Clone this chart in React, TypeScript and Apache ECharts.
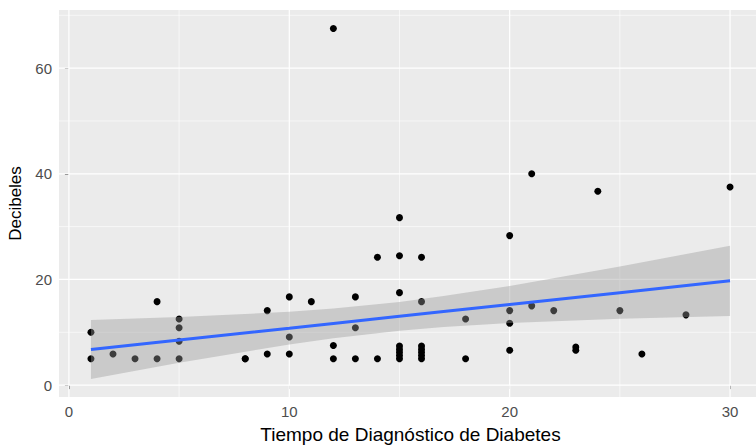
import React, { useEffect, useRef } from "react";
import * as echarts from "echarts";

// Scatter points: [Tiempo de Diagnóstico (años), Decibeles]
const pointX = [
  1, 1, 2, 3, 4, 4, 5, 5, 5, 5, 8, 8, 9, 9, 10, 10, 10, 11, 12, 12, 12, 13, 13, 13, 14, 14,
  15, 15, 15, 15, 15, 15, 15, 15, 16, 16, 16, 16, 16, 16, 16, 18, 18, 20, 20, 20, 20, 21, 21,
  22, 23, 23, 24, 25, 26, 28, 30,
];
const pointY = [
  10, 5, 5.9, 5, 15.8, 5, 12.5, 10.85, 8.3, 5, 5, 5, 14.1, 5.9, 16.7, 9.1, 5.9, 15.8, 67.5, 7.5, 5,
  16.7, 10.85, 5, 24.2, 5,
  31.7, 24.5, 17.5, 7.4, 6.8, 6.2, 5.6, 5, 24.2, 15.8, 7.4, 6.8, 6.2, 5.6, 5, 12.5, 5,
  28.3, 14.1, 11.7, 6.6, 40, 15, 14.1, 7.2, 6.6, 36.7, 14.1, 5.9, 13.3, 37.5,
];

// Smoother (linear fit) and its confidence band
const smoothX = [1, 5, 10, 12, 15, 17, 20, 25, 30];
const smoothFit = [6.75, 8.54, 10.78, 11.68, 13.02, 13.92, 15.26, 17.5, 19.74];
const smoothLower = [1.17, 4.21, 7.69, 8.88, 10.29, 10.99, 11.74, 12.56, 13.09];
const smoothUpper = [12.33, 12.87, 13.87, 14.48, 15.75, 16.85, 18.78, 22.44, 26.39];

// Axis ticks and grid lines
const xTicks = [0, 10, 20, 30];
const yTicks = [0, 20, 40, 60];
const xMinorGrid = [5, 15, 25];
const yMinorGrid = [10, 30, 50, 70];

const X_TITLE = "Tiempo de Diagnóstico de Diabetes";
const Y_TITLE = "Decibeles";

const FONT = "'Liberation Sans', Arial, Helvetica, sans-serif";

export default function App() {
  const ref = useRef<HTMLDivElement>(null);

  useEffect(() => {
    if (!ref.current) return;
    const chart = echarts.init(ref.current, undefined, { renderer: "svg" });

    const vLines = [
      ...xTicks.map((v) => [v, 0, 1]),
      ...xMinorGrid.map((v) => [v, 0, 0]),
    ];
    const hLines = [
      ...yTicks.map((v) => [0, v, 1]),
      ...yMinorGrid.map((v) => [0, v, 0]),
    ];

    const option: any = {
      animation: false,
      textStyle: { fontFamily: FONT },
      grid: {
        left: 59,
        top: 10,
        width: 703,
        height: 387,
        show: true,
        backgroundColor: "#EBEBEB",
        borderWidth: 0,
        containLabel: false,
        outerBoundsMode: "none",
      },
      xAxis: {
        type: "value",
        min: -0.45,
        max: 31.45,
        axisLine: { show: false },
        axisTick: {
          show: true,
          customValues: xTicks,
          length: 4,
          lineStyle: { color: "#333333", width: 1 },
        },
        axisLabel: {
          customValues: xTicks,
          color: "#4D4D4D",
          fontSize: 15,
          margin: 7,
          fontFamily: FONT,
        },
        splitLine: { show: false },
        name: X_TITLE,
        nameLocation: "middle",
        nameGap: 28,
        nameTextStyle: { color: "#000000", fontSize: 19, fontFamily: FONT },
      },
      yAxis: {
        type: "value",
        min: -2.25,
        max: 71,
        axisLine: { show: false },
        axisTick: {
          show: true,
          customValues: yTicks,
          length: 4,
          lineStyle: { color: "#333333", width: 1 },
        },
        axisLabel: {
          customValues: yTicks,
          color: "#4D4D4D",
          fontSize: 15,
          margin: 7,
          fontFamily: FONT,
        },
        splitLine: { show: false },
        name: Y_TITLE,
        nameLocation: "middle",
        nameGap: 30,
        nameTextStyle: { color: "#000000", fontSize: 17, fontFamily: FONT },
      },
      series: [
        {
          type: "custom",
          name: "vgrid",
          z: 1,
          silent: true,
          data: vLines,
          renderItem: (params: any, api: any) => {
            const cs = params.coordSys;
            const x = api.coord([api.value(0), 0])[0];
            const major = api.value(2) === 1;
            return {
              type: "line",
              shape: { x1: x, y1: cs.y, x2: x, y2: cs.y + cs.height },
              style: { stroke: "#FFFFFF", lineWidth: major ? 1.2 : 0.6 },
            };
          },
        },
        {
          type: "custom",
          name: "hgrid",
          z: 1,
          silent: true,
          data: hLines,
          renderItem: (params: any, api: any) => {
            const cs = params.coordSys;
            const y = api.coord([0, api.value(1)])[1];
            const major = api.value(2) === 1;
            return {
              type: "line",
              shape: { x1: cs.x, y1: y, x2: cs.x + cs.width, y2: y },
              style: { stroke: "#FFFFFF", lineWidth: major ? 1.2 : 0.6 },
            };
          },
        },
        {
          type: "scatter",
          name: "points",
          z: 2,
          symbol: "circle",
          symbolSize: 7,
          itemStyle: { color: "#000000", opacity: 1 },
          data: pointX.map((x, i) => [x, pointY[i]]),
        },
        {
          type: "custom",
          name: "band",
          z: 3,
          silent: true,
          data: [[smoothX[0], smoothLower[0]]],
          renderItem: (params: any, api: any) => {
            const upper = smoothX.map((x, i) => api.coord([x, smoothUpper[i]]));
            const lower = smoothX
              .map((x, i) => api.coord([x, smoothLower[i]]))
              .reverse();
            return {
              type: "polygon",
              shape: { points: [...upper, ...lower] },
              style: { fill: "rgba(153,153,153,0.4)", stroke: "none" },
            };
          },
        },
        {
          type: "line",
          name: "fit",
          z: 4,
          showSymbol: false,
          symbol: "none",
          lineStyle: { color: "#3366FF", width: 3 },
          data: smoothX.map((x, i) => [x, smoothFit[i]]),
        },
      ],
    };

    chart.setOption(option);
    return () => chart.dispose();
  }, []);

  return (
    <div
      style={{ position: "absolute", left: 0, top: 0, width: 756, height: 445, overflow: "hidden", background: "#FFFFFF" }}
    >
      <div ref={ref} style={{ width: 790, height: 445 }} />
    </div>
  );
}
